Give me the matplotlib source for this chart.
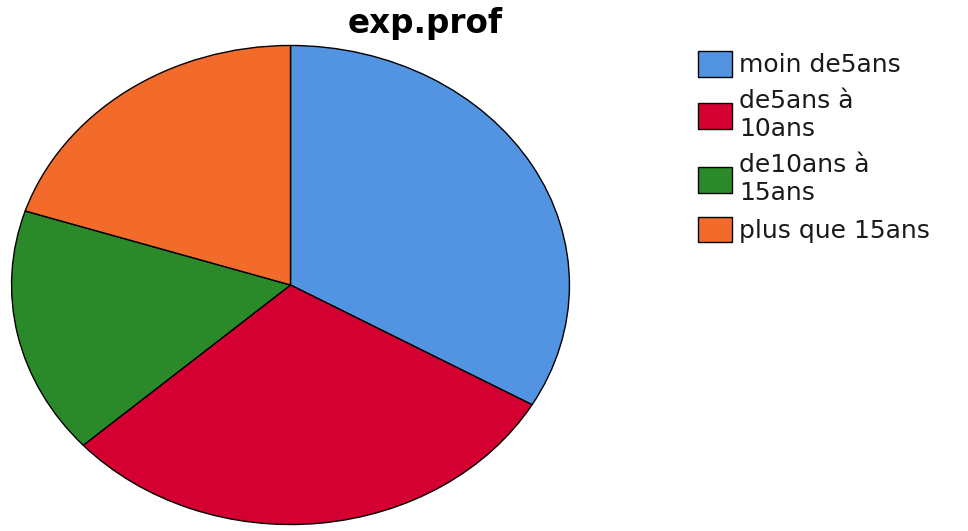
import matplotlib
matplotlib.use("Agg")
import matplotlib.pyplot as plt

title = "exp.prof"
categories = ["moin de5ans", "de5ans à\n10ans", "de10ans à\n15ans", "plus que 15ans"]
values = [10, 9, 5, 6]
colors = ["#5294E2", "#D50032", "#2A8A2A", "#F26B2A"]

W, H = 968, 531
fig = plt.figure(figsize=(W / 100, H / 100), dpi=100)
ax = fig.add_axes([11 / W, (H - 525) / H, 559 / W, 480 / H])
wedges, _ = ax.pie(values, colors=colors, startangle=90, counterclock=False,
                   wedgeprops=dict(edgecolor="black", linewidth=1.0))
ax.set_aspect("auto")
ax.set_xlim(-1.002, 1.002)
ax.set_ylim(-1.002, 1.002)
ax.axis("off")

fig.text(425 / W, 1 - 23 / H, title, ha="center", va="center",
         fontsize=23.5, fontweight="bold", family="DejaVu Sans")

fs = 18
leg = fig.legend(wedges, categories, loc="upper left",
                 bbox_to_anchor=(693 / W, 1 - 46 / H), frameon=False,
                 handlelength=1.35, handleheight=1.2,
                 handletextpad=0.28, labelspacing=0.45, borderpad=0.2,
                 borderaxespad=0.0,
                 prop=dict(family="DejaVu Sans", size=fs))
for t in leg.get_texts():
    t.set_linespacing(1.25)
    t.set_color("#1a1a1a")

fig.savefig("out.png", dpi=100, facecolor="white")
